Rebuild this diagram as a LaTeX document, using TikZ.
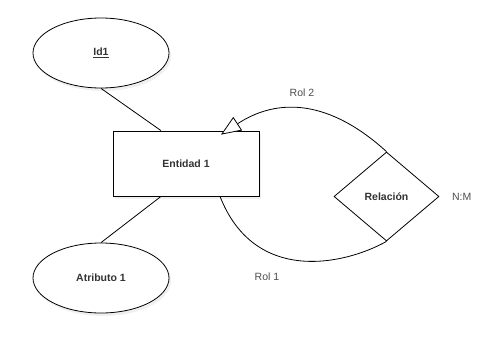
\documentclass[tikz,border=0pt]{standalone}
\usepackage{fontspec}
\setmainfont{Liberation Sans}
\usetikzlibrary{arrows.meta, positioning, shapes.geometric, shadows, calc}

\begin{document}
\begin{tikzpicture}[x=1pt, y=-1pt, line width=0.8pt,
    font=\fontsize{10.5}{12}\selectfont,
    softshadow/.style={drop shadow={opacity=0.12, shadow xshift=2pt, shadow yshift=-3pt}},
    attr/.style={ellipse, draw, fill=white, softshadow, minimum width=136pt,
      minimum height=70pt, inner sep=0pt, font=\fontsize{10.5}{12}\selectfont\bfseries, text=black!80},
    entity/.style={rectangle, draw, fill=white, softshadow, minimum width=146pt,
      minimum height=65pt, font=\fontsize{10.5}{12}\selectfont\bfseries, text=black!80},
    rel/.style={diamond, draw, fill=white, minimum width=105pt,
      minimum height=89pt, inner sep=0pt, font=\fontsize{10.5}{12}\selectfont\bfseries, text=black!80},
    lbl/.style={text=black!70}]
  \useasboundingbox (0,0) rectangle (504,346);

  % Entity and its attributes
  \node[entity] (ent) at (186,163.5) {Entidad 1};
  \node[attr] (id1) at (101,53) {\underline{Id1}};
  \node[attr] (atr) at (101,278) {Atributo 1};

  \draw (id1.south) -- ([xshift=-25pt]ent.north);
  \draw ([xshift=-25pt]ent.south) -- (atr.north);

  % Relationship
  \node[rel] (relacion) at (386.5,196.5) {Relación};
  \node[lbl, right=9pt of relacion.east] (card) {N:M};

  % Roles
  \coordinate (tip) at ([xshift=35pt, yshift=-4pt]ent.north);
  \coordinate (foot) at ([xshift=34pt]ent.south);
  \draw[-{Triangle[open, fill=white, length=20pt, width=16pt]}]
    (relacion.north) .. controls ($(relacion.north)+(-56,-51)$)
    and ($(tip)+(58,-38)$) .. (tip);
  \draw (foot) .. controls ($(foot)+(35,89)$)
    and ($(relacion.south)+(-41,23)$) .. (relacion.south);

  \node[lbl] (rol2) at (302,93) {Rol 2};
  \node[lbl] (rol1) at (267,277) {Rol 1};
\end{tikzpicture}
\end{document}
